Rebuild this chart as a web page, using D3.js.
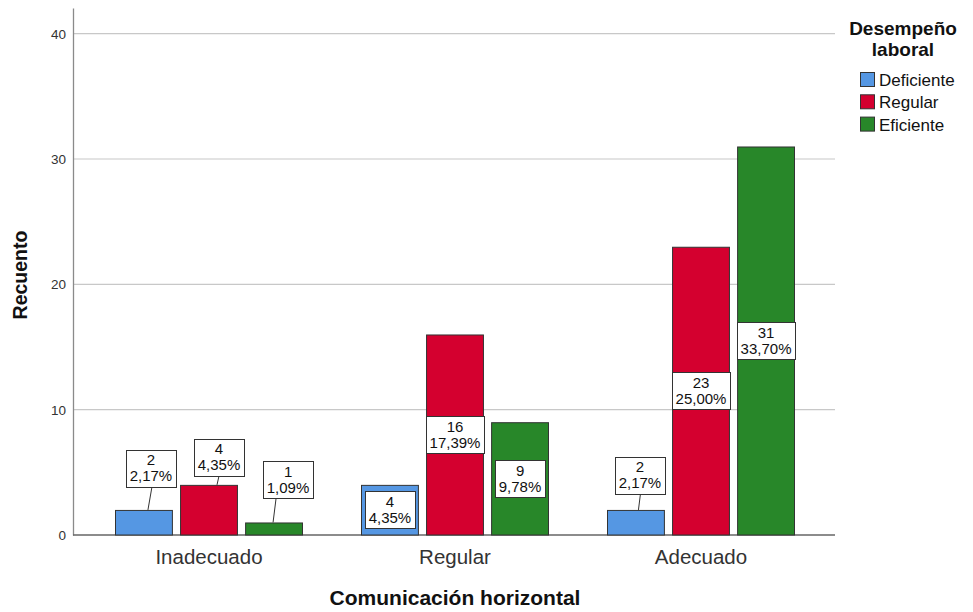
<!DOCTYPE html>
<html>
<head>
<meta charset="utf-8">
<script src="https://cdn.jsdelivr.net/npm/d3@7"></script>
<style>
  html, body { margin: 0; padding: 0; background: #fff; }
  svg { display: block; font-family: "Liberation Sans", Arial, sans-serif; }
</style>
</head>
<body>
<svg id="chart" width="973" height="612"></svg>
<script>
// Categories of the x axis and the grouping series
const categories = ["Inadecuado", "Regular", "Adecuado"];
const series = ["Deficiente", "Regular", "Eficiente"];

// Counts per series (one value per category)
const deficiente = [2, 4, 2];
const regular = [4, 16, 23];
const eficiente = [1, 9, 31];

// Percent of total shown in the labels
const pctDeficiente = ["2,17%", "4,35%", "2,17%"];
const pctRegular = ["4,35%", "17,39%", "25,00%"];
const pctEficiente = ["1,09%", "9,78%", "33,70%"];

const yTicks = [0, 10, 20, 30, 40];

const colors = ["#5597e3", "#d4002f", "#288729"];

const values = [deficiente, regular, eficiente];
const pcts = [pctDeficiente, pctRegular, pctEficiente];

// Label placement for short bars: box sits above the bar with a leader line.
// key "category|series" -> [box dx, gap above bar top, line top dx, line bottom dx]
const outside = {
  "0|0": [7, 23, 8, 4],
  "0|1": [10, 9, 10, 8],
  "0|2": [14, 24, 2, -1],
  "2|0": [4, 16, 4.5, 2.5]
};

const FONT = "Liberation Sans, Arial, sans-serif";
const svg = d3.select("#chart");

const y = d3.scaleLinear().domain([0, 42.05]).range([535, 8]);
const x0 = d3.scaleBand().domain(categories).range([86, 824]);
const groupW = 188;
const x1 = d3.scaleBand().domain(series).range([0, groupW]).paddingInner(0.11);

// gridlines
svg.append("g")
  .selectAll("line")
  .data(yTicks.filter(d => d > 0))
  .join("line")
  .attr("x1", 73).attr("x2", 835)
  .attr("y1", d => y(d)).attr("y2", d => y(d))
  .attr("stroke", "#c8c8c8").attr("stroke-width", 1.2);

// y axis
const yAxis = d3.axisLeft(y).tickValues(yTicks).tickSize(0).tickPadding(7);
const gy = svg.append("g").attr("transform", "translate(73,0)").call(yAxis);
gy.select(".domain").attr("stroke", "#8a8a8a").attr("stroke-width", 1.3);
gy.selectAll("text").attr("font-size", 13.5).attr("fill", "#333").attr("font-family", FONT);

// x axis
const xAxis = d3.axisBottom(x0).tickSize(0).tickPadding(14);
const gx = svg.append("g").attr("transform", "translate(0,535)").call(xAxis);
gx.select(".domain").remove();
gx.append("line").attr("x1", 73).attr("x2", 835).attr("y1", 0).attr("y2", 0)
  .attr("stroke", "#666").attr("stroke-width", 1.3);
gx.selectAll(".tick text").attr("font-size", 20.5).attr("fill", "#333").attr("font-family", FONT);

// bars
const rows = [];
categories.forEach((c, ci) => {
  series.forEach((s, si) => {
    rows.push({ c, ci, s, si, v: values[si][ci], p: pcts[si][ci] });
  });
});

const barX = d => x0(d.c) + (x0.bandwidth() - groupW) / 2 + x1(d.s);

svg.append("g")
  .selectAll("rect")
  .data(rows)
  .join("rect")
  .attr("x", d => barX(d) + 0.5)
  .attr("y", d => y(d.v) + 0.5)
  .attr("width", x1.bandwidth() - 1)
  .attr("height", d => y(0) - y(d.v) - 0.5)
  .attr("fill", d => colors[d.si])
  .attr("stroke", "#333")
  .attr("stroke-width", 1);

// value labels: count and percent in a white box
const boxH = 37;
const lg = svg.append("g");
rows.forEach(d => {
  const cx = barX(d) + x1.bandwidth() / 2;
  const key = d.ci + "|" + d.si;
  const top = y(d.v);
  let bx, by;
  if (outside[key]) {
    const [dx, gap, lt, lb] = outside[key];
    bx = cx + dx;
    by = top - gap - boxH / 2;
    lg.append("line")
      .attr("x1", cx + lt).attr("y1", by + boxH / 2)
      .attr("x2", cx + lb).attr("y2", top)
      .attr("stroke", "#333").attr("stroke-width", 1);
  } else {
    bx = cx;
    by = (top + y(0)) / 2;
  }
  const box = lg.append("rect")
    .attr("fill", "#fff").attr("stroke", "#333").attr("stroke-width", 1);
  const t1 = lg.append("text")
    .attr("x", bx).attr("y", by - 3)
    .attr("text-anchor", "middle").attr("font-size", 15).attr("fill", "#111")
    .text(d.v);
  const t2 = lg.append("text")
    .attr("x", bx).attr("y", by + 13)
    .attr("text-anchor", "middle").attr("font-size", 15).attr("fill", "#111")
    .text(d.p);
  const w = Math.max(t1.node().getComputedTextLength(), t2.node().getComputedTextLength()) + 7;
  box.attr("x", Math.round(bx - w / 2) + 0.5).attr("y", Math.round(by - boxH / 2) + 0.5)
    .attr("width", Math.round(w)).attr("height", boxH);
});

// axis titles
svg.append("text")
  .attr("transform", "translate(27,275) rotate(-90)")
  .attr("text-anchor", "middle")
  .attr("font-size", 19.5).attr("font-weight", "bold").attr("fill", "#111")
  .text("Recuento");

svg.append("text")
  .attr("x", 455).attr("y", 605)
  .attr("text-anchor", "middle")
  .attr("font-size", 21).attr("font-weight", "bold").attr("fill", "#111")
  .text("Comunicación horizontal");

// legend
const leg = svg.append("g");
leg.append("text").attr("x", 903).attr("y", 35).attr("text-anchor", "middle")
  .attr("font-size", 19).attr("font-weight", "bold").attr("fill", "#111").text("Desempeño");
leg.append("text").attr("x", 903).attr("y", 56).attr("text-anchor", "middle")
  .attr("font-size", 19).attr("font-weight", "bold").attr("fill", "#111").text("laboral");
series.forEach((s, i) => {
  leg.append("rect")
    .attr("x", 860.5).attr("y", 72.5 + i * 22.3)
    .attr("width", 14).attr("height", 14)
    .attr("fill", colors[i]).attr("stroke", "#333").attr("stroke-width", 1);
  leg.append("text")
    .attr("x", 879).attr("y", 86 + i * 22.3)
    .attr("font-size", 17).attr("fill", "#111").text(s);
});
</script>
</body>
</html>
